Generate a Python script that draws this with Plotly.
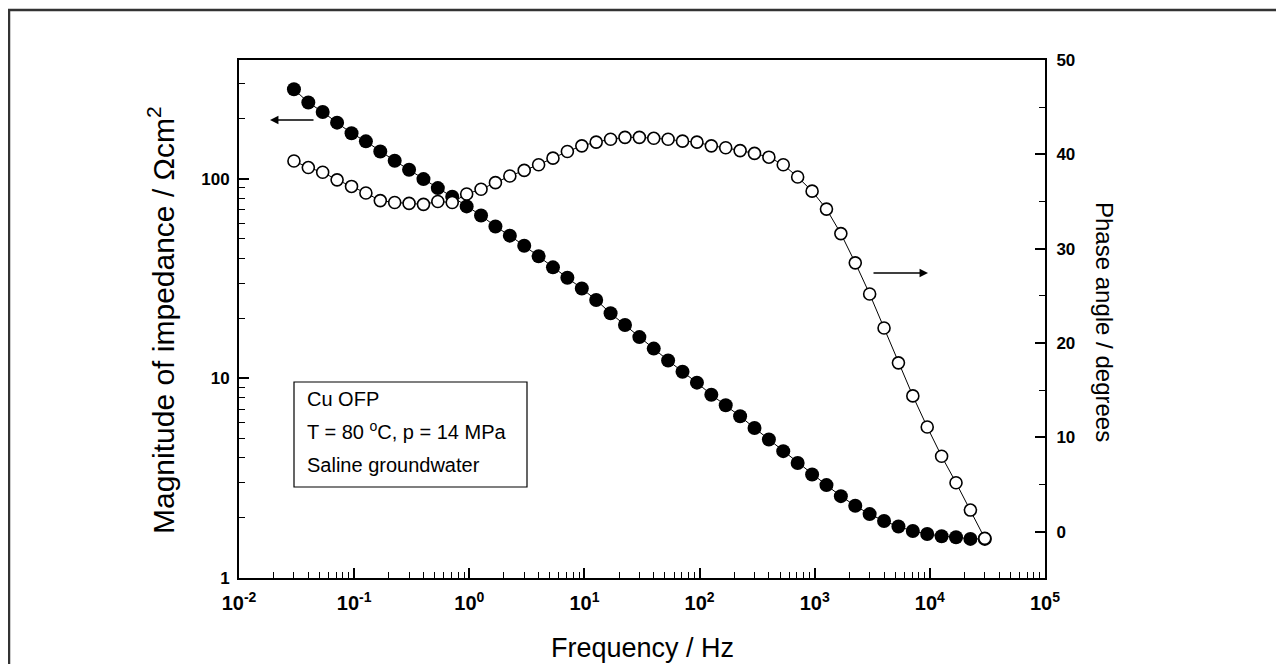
import plotly.graph_objects as go

# Frequency sweep (Hz), 8 points per decade
freq = [0.03, 0.04, 0.0533, 0.0711, 0.0949, 0.1265, 0.1687, 0.225,
        0.3, 0.4, 0.533, 0.711, 0.949, 1.265, 1.687, 2.25,
        3.0, 4.0, 5.33, 7.11, 9.49, 12.65, 16.87, 22.5,
        30.0, 40.0, 53.3, 71.1, 94.9, 126.5, 168.7, 225.0,
        300.0, 400.0, 533.0, 711.0, 949.0, 1265.0, 1687.0, 2250.0,
        3000.0, 4000.0, 5335.0, 7114.0, 9487.0, 12649.0, 16870.0, 22500.0,
        30000.0]

# |Z| in ohm cm^2
impedance = [281, 241, 216, 191, 169, 154, 137, 123,
             111, 99.6, 89.8, 81.3, 72.7, 65.5, 57.7, 51.9,
             46.2, 40.9, 36.0, 31.9, 28.2, 24.7, 21.2, 18.5,
             16.1, 14.1, 12.3, 10.8, 9.52, 8.28, 7.33, 6.46,
             5.64, 4.94, 4.32, 3.77, 3.30, 2.92, 2.57, 2.30,
             2.09, 1.93, 1.81, 1.72, 1.66, 1.62, 1.60, 1.57,
             1.57]

# phase angle in degrees
phase = [39.3, 38.6, 38.1, 37.3, 36.6, 35.9, 35.1, 34.9,
         34.8, 34.7, 35.0, 34.9, 35.8, 36.3, 37.0, 37.7,
         38.3, 38.9, 39.6, 40.3, 40.9, 41.3, 41.6, 41.8,
         41.8, 41.7, 41.6, 41.4, 41.3, 40.9, 40.7, 40.4,
         40.1, 39.7, 38.9, 37.6, 36.1, 34.2, 31.6, 28.5,
         25.2, 21.6, 17.9, 14.4, 11.1, 8.0, 5.2, 2.3,
         -0.7]

x_ticks = [0.01, 0.1, 1, 10, 100, 1000, 10000, 100000]
x_ticktext = ["10<sup>-2</sup>", "10<sup>-1</sup>", "10<sup>0</sup>", "10<sup>1</sup>",
              "10<sup>2</sup>", "10<sup>3</sup>", "10<sup>4</sup>", "10<sup>5</sup>"]
y_ticks = [1, 10, 100]
y_ticktext = ["1", "10", "100"]
phase_ticks = [0, 10, 20, 30, 40, 50]

x_minor = [m * 10 ** e for e in range(-2, 5) for m in range(2, 10)]
y_minor = [m * 10 ** e for e in range(0, 3) for m in range(2, 10) if m * 10 ** e < 400]

FONT = "Liberation Sans, Arial, sans-serif"
OFF = 8  # page body margin
W, H = 1276, 656
PX0, PX1, PY0, PY1 = 239, 1045, 60, 578  # plot area in screen pixels
L = PX0 - OFF
R = W - (PX1 - OFF)
T = PY0 - OFF
B = H - (PY1 - OFF)

fig = go.Figure()
fig.add_trace(go.Scatter(
    x=freq, y=impedance, yaxis="y", mode="lines+markers",
    line=dict(color="black", width=1),
    marker=dict(symbol="circle", size=14, color="black", line=dict(color="black", width=0)),
    showlegend=False, cliponaxis=False))
fig.add_trace(go.Scatter(
    x=freq, y=phase, yaxis="y2", mode="lines+markers",
    line=dict(color="black", width=1),
    marker=dict(symbol="circle", size=12, color="white", line=dict(color="black", width=1.6)),
    showlegend=False, cliponaxis=False))

fig.update_layout(
    width=W, height=H,
    margin=dict(l=L, r=R, t=T, b=B, pad=0),
    paper_bgcolor="white", plot_bgcolor="white",
    font=dict(family=FONT, color="black"),
    xaxis=dict(type="log", range=[-2, 5], showgrid=False, zeroline=False,
               showline=True, linecolor="black", linewidth=2, mirror=True,
               ticks="inside", ticklen=10, tickwidth=1.5, tickcolor="black",
               tickvals=x_ticks, ticktext=x_ticktext,
               tickfont=dict(family=FONT, size=20, color="black", weight="bold"),
               ticklabelstandoff=6,
               minor=dict(tickvals=x_minor, ticks="inside", ticklen=6,
                          tickwidth=1.2, tickcolor="black", showgrid=False)),
    yaxis=dict(type="log", range=[0, 2.595], showgrid=False, zeroline=False,
               showline=True, linecolor="black", linewidth=2,
               ticks="inside", ticklen=10, tickwidth=1.5, tickcolor="black",
               tickvals=y_ticks, ticktext=y_ticktext,
               tickfont=dict(family=FONT, size=17, color="black", weight="bold"),
               ticklabelstandoff=4,
               minor=dict(tickvals=y_minor, ticks="inside", ticklen=6,
                          tickwidth=1.2, tickcolor="black", showgrid=False)),
    yaxis2=dict(overlaying="y", side="right", range=[-4.9, 50], showgrid=False,
                zeroline=False, showline=True, linecolor="black", linewidth=2,
                ticks="inside", ticklen=10, tickwidth=1.5, tickcolor="black",
                tickvals=phase_ticks,
                tickfont=dict(family=FONT, size=17, color="black", weight="bold"),
                ticklabelstandoff=6,
                minor=dict(dtick=5, ticks="inside", ticklen=6, tickwidth=1.2,
                           tickcolor="black", showgrid=False)),
)


def px(x):
    return (x - PX0) / (PX1 - PX0)


def py(y):
    return (PY1 - y) / (PY1 - PY0)


annotations = [
    dict(text="Magnitude of impedance / Ωcm<sup>2</sup>", x=px(161), y=py(320),
         xref="paper", yref="paper", showarrow=False, textangle=-90,
         xanchor="center", yanchor="middle",
         font=dict(family=FONT, size=30, color="black")),
    dict(text="Phase angle / degrees", x=px(1105), y=py(322),
         xref="paper", yref="paper", showarrow=False, textangle=90,
         xanchor="center", yanchor="middle",
         font=dict(family=FONT, size=24, color="black")),
    dict(text="Frequency / Hz", x=px(642), y=py(648),
         xref="paper", yref="paper", showarrow=False,
         xanchor="center", yanchor="middle",
         font=dict(family=FONT, size=27, color="black")),
    dict(text="Cu OFP", x=px(305), y=py(412), xref="paper", yref="paper",
         showarrow=False, xanchor="left", yanchor="bottom",
         font=dict(family=FONT, size=20, color="black")),
    dict(text="T = 80 <sup>o</sup>C, p = 14 MPa", x=px(305), y=py(445), xref="paper",
         yref="paper", showarrow=False, xanchor="left", yanchor="bottom",
         font=dict(family=FONT, size=20, color="black")),
    dict(text="Saline groundwater", x=px(305), y=py(478), xref="paper", yref="paper",
         showarrow=False, xanchor="left", yanchor="bottom",
         font=dict(family=FONT, size=20, color="black")),
    dict(text="", x=px(270), y=py(120), xref="paper", yref="paper", showarrow=True,
         ax=45, ay=0, arrowhead=2, arrowsize=1.3, arrowwidth=1.3, arrowcolor="black"),
    dict(text="", x=px(928), y=py(273), xref="paper", yref="paper", showarrow=True,
         ax=-56, ay=0, arrowhead=2, arrowsize=1.3, arrowwidth=1.3, arrowcolor="black"),
]
fig.update_layout(annotations=annotations)

shapes = [
    dict(type="rect", xref="paper", yref="paper", x0=px(294), x1=px(527),
         y0=py(382), y1=py(487), line=dict(color="black", width=1.2),
         fillcolor="rgba(0,0,0,0)"),
    dict(type="rect", xref="paper", yref="paper", x0=px(9), x1=px(1320),
         y0=py(10), y1=py(700), line=dict(color="#333333", width=2.5),
         fillcolor="rgba(0,0,0,0)"),
]
fig.update_layout(shapes=shapes)

fig.write_html("out.html")
